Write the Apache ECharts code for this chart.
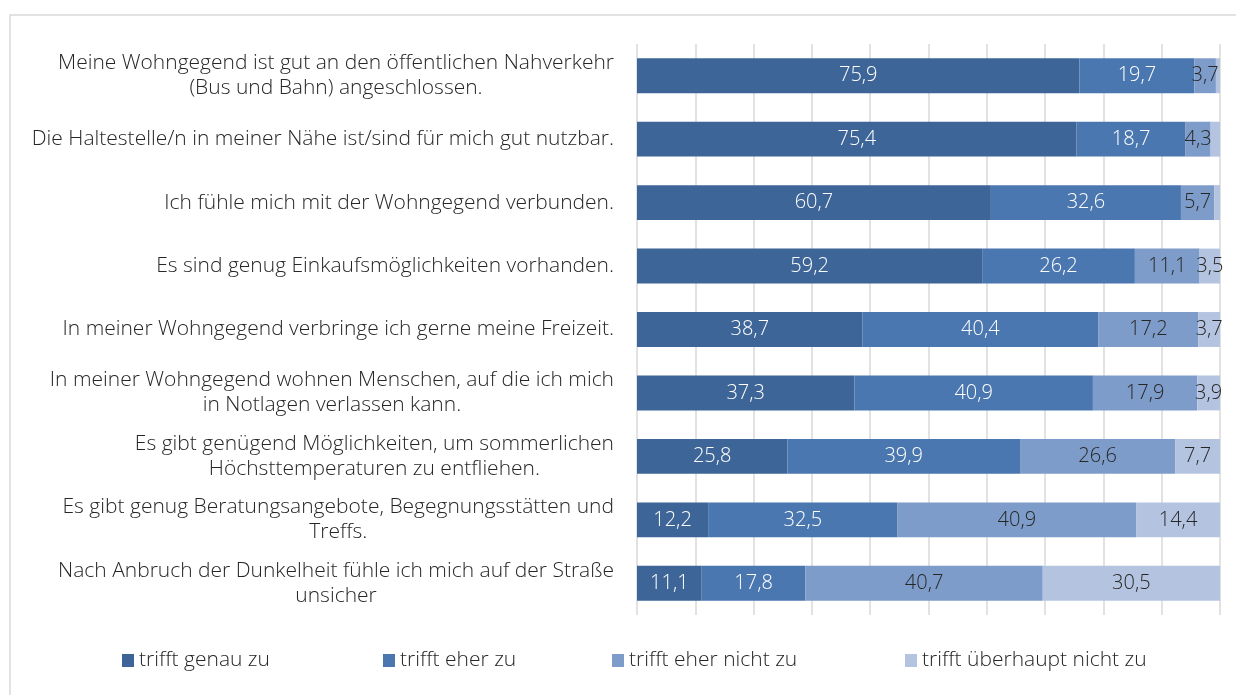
<!DOCTYPE html>
<html>
<head>
<meta charset="utf-8">
<script src="https://cdn.jsdelivr.net/npm/echarts@6/dist/echarts.min.js"></script>
<style>
  html, body { margin: 0; padding: 0; background: #fff; }
  #chart { width: 1236px; height: 695px; }
</style>
</head>
<body>
<div id="chart"></div>
<script>
const categories = [
  'Meine Wohngegend ist gut an den öffentlichen Nahverkehr\n(Bus und Bahn) angeschlossen.',
  'Die Haltestelle/n in meiner Nähe ist/sind für mich gut nutzbar.',
  'Ich fühle mich mit der Wohngegend verbunden.',
  'Es sind genug Einkaufsmöglichkeiten vorhanden.',
  'In meiner Wohngegend verbringe ich gerne meine Freizeit.',
  'In meiner Wohngegend wohnen Menschen, auf die ich mich\nin Notlagen verlassen kann.',
  'Es gibt genügend Möglichkeiten, um sommerlichen\nHöchsttemperaturen zu entfliehen.',
  'Es gibt genug Beratungsangebote, Begegnungsstätten und\nTreffs.',
  'Nach Anbruch der Dunkelheit fühle ich mich auf der Straße\nunsicher'
]
const seriesNames = ['trifft genau zu', 'trifft eher zu', 'trifft eher nicht zu', 'trifft überhaupt nicht zu']
const genau = [75.9, 75.4, 60.7, 59.2, 38.7, 37.3, 25.8, 12.2, 11.1]
const eher = [19.7, 18.7, 32.6, 26.2, 40.4, 40.9, 39.9, 32.5, 17.8]
const eherNicht = [3.7, 4.3, 5.7, 11.1, 17.2, 17.9, 26.6, 40.9, 40.7]
const ueberhauptNicht = [0.7, 1.6, 1.0, 3.5, 3.7, 3.9, 7.7, 14.4, 30.5]

const COLORS = ['#3e6597', '#4a77b0', '#7e9cc9', '#b4c4e0']
const LABEL_COLORS = ['#ffffff', '#ffffff', '#262626', '#262626']
const FONT = '"Open Sans", "Noto Sans", sans-serif'
const LEGEND_LEFT = [122, 383, 612, 905]

const chart = echarts.init(document.getElementById('chart'))

const makeSeries = (name, values, i) => ({
  name,
  type: 'bar',
  stack: 'total',
  barCategoryGap: '45%',
  itemStyle: { color: COLORS[i] },
  data: values.map((v) => ({
    value: v,
    // Excel hides the tiny remainders in the top rows
    label: { show: v >= 2 }
  })),
  label: {
    show: true,
    position: 'inside',
    color: LABEL_COLORS[i],
    fontFamily: FONT,
    fontSize: 20,
    fontWeight: 300,
    formatter: (p) => p.value.toFixed(1).replace('.', ',')
  }
})

const option = {
  backgroundColor: '#ffffff',
  animation: false,
  graphic: [{
    type: 'rect',
    shape: { x: 10, y: 15, width: 1260, height: 720 },
    style: { fill: 'none', stroke: '#d9d9d9', lineWidth: 1.5 },
    silent: true
  }],
  legend: seriesNames.map((n, i) => ({
    data: [n],
    left: LEGEND_LEFT[i],
    top: 650,
    padding: 0,
    itemWidth: 12,
    itemHeight: 13,
    icon: 'rect',
    textStyle: { fontFamily: FONT, fontSize: 21, fontWeight: 300, color: '#262626' }
  })),
  grid: { left: 637, right: 16, top: 44, bottom: 80 },
  xAxis: {
    type: 'value',
    min: 0,
    max: 100,
    interval: 10,
    axisLabel: { show: false },
    axisLine: { show: false },
    axisTick: { show: false },
    splitLine: { lineStyle: { color: '#d9d9d9', width: 1.5 } }
  },
  yAxis: {
    type: 'category',
    inverse: true,
    data: categories,
    axisLine: { show: false },
    axisTick: { show: false },
    axisLabel: {
      margin: 23,
      formatter: (v) => v.split('\n').map((s) => '{a|' + s + '}').join('\n'),
      rich: {
        a: { align: 'center', fontFamily: FONT, fontSize: 21, fontWeight: 300, color: '#262626', lineHeight: 25 }
      }
    }
  },
  series: [
    makeSeries(seriesNames[0], genau, 0),
    makeSeries(seriesNames[1], eher, 1),
    makeSeries(seriesNames[2], eherNicht, 2),
    makeSeries(seriesNames[3], ueberhauptNicht, 3)
  ]
}

chart.setOption(option)
</script>
</body>
</html>
